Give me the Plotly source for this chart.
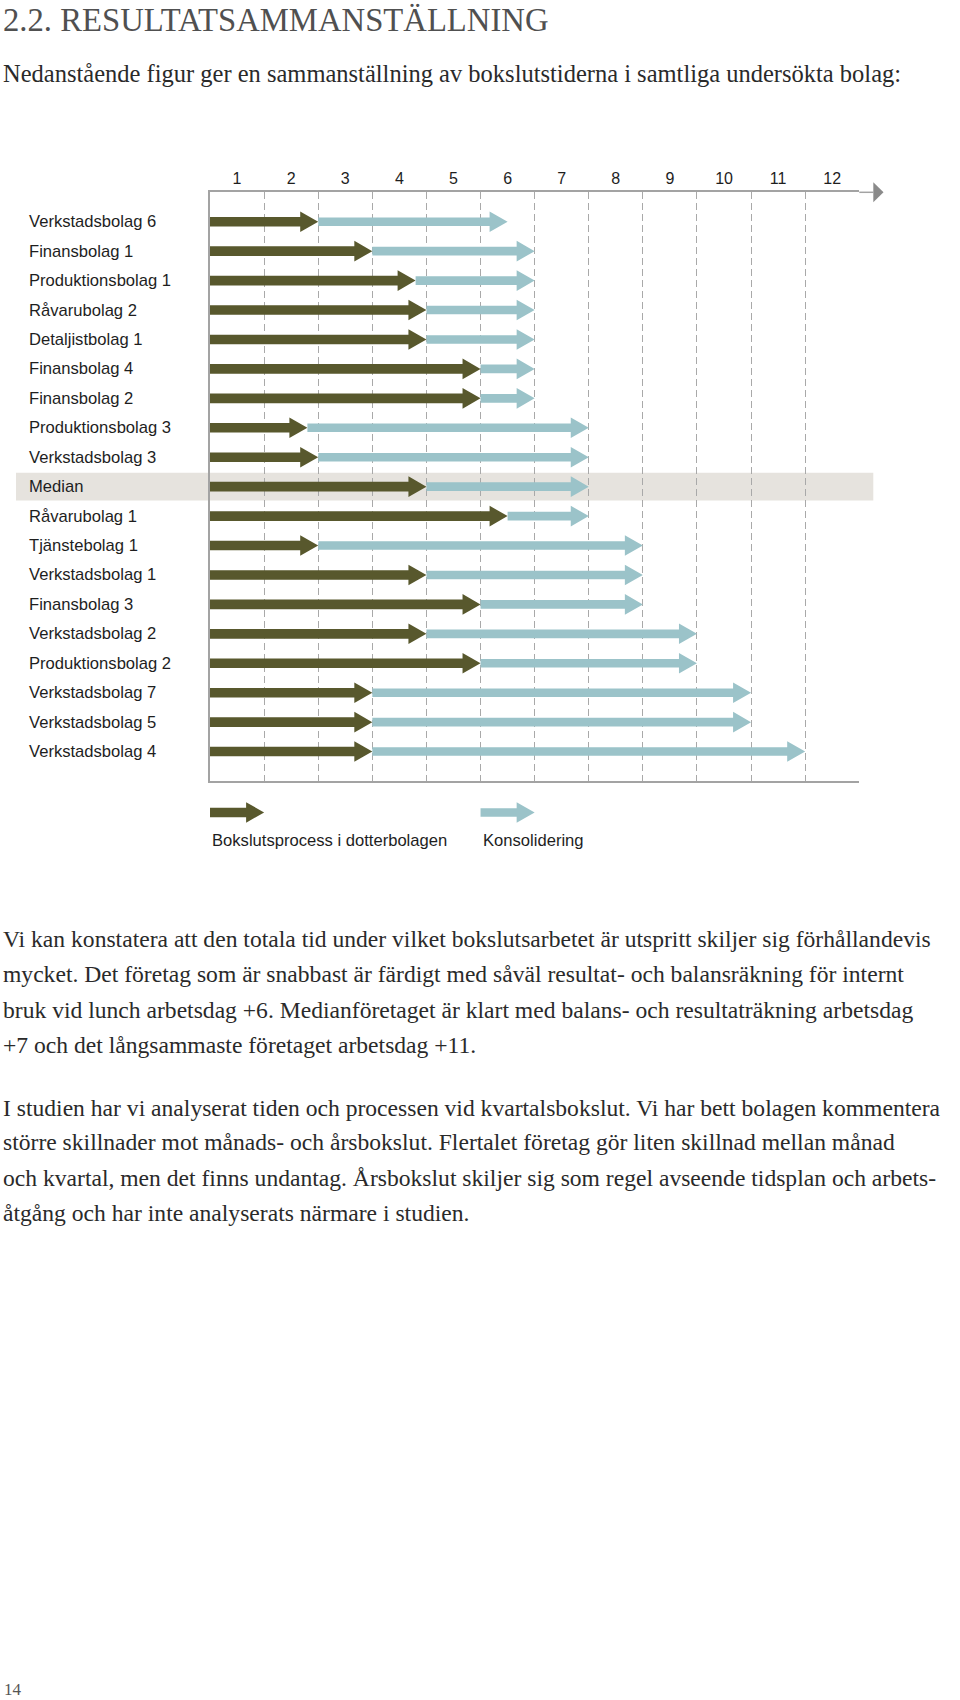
import plotly.graph_objects as go

# ---------------- data ----------------
companies = ["Verkstadsbolag 6", "Finansbolag 1", "Produktionsbolag 1", "Råvarubolag 2",
             "Detaljistbolag 1", "Finansbolag 4", "Finansbolag 2", "Produktionsbolag 3",
             "Verkstadsbolag 3", "Median", "Råvarubolag 1", "Tjänstebolag 1",
             "Verkstadsbolag 1", "Finansbolag 3", "Verkstadsbolag 2", "Produktionsbolag 2",
             "Verkstadsbolag 7", "Verkstadsbolag 5", "Verkstadsbolag 4"]
subsidiary_end = [2, 3, 3.8, 4, 4, 5, 5, 1.8, 2, 4, 5.5, 2, 4, 5, 4, 5, 3, 3, 3]
consolidation_end = [5.5, 6, 6, 6, 6, 6, 6, 7, 7, 7, 7, 8, 8, 8, 9, 9, 10, 10, 11]
day_labels = ["1", "2", "3", "4", "5", "6", "7", "8", "9", "10", "11", "12"]
legend_names = ["Bokslutsprocess i dotterbolagen", "Konsolidering"]
highlight = "Median"

title = "2.2. RESULTATSAMMANSTÄLLNING"
subtitle = "Nedanstående figur ger en sammanställning av bokslutstiderna i samtliga undersökta bolag:"
paragraph1 = [
    "Vi kan konstatera att den totala tid under vilket bokslutsarbetet är utspritt skiljer sig förhållandevis",
    "mycket. Det företag som är snabbast är färdigt med såväl resultat- och balansräkning för internt",
    "bruk vid lunch arbetsdag +6. Medianföretaget är klart med balans- och resultaträkning arbetsdag",
    "+7 och det långsammaste företaget arbetsdag +11.",
]
paragraph2 = [
    "I studien har vi analyserat tiden och processen vid kvartalsbokslut. Vi har bett bolagen kommentera",
    "större skillnader mot månads- och årsbokslut. Flertalet företag gör liten skillnad mellan månad",
    "och kvartal, men det finns undantag. Årsbokslut skiljer sig som regel avseende tidsplan och arbets-",
    "åtgång och har inte analyserats närmare i studien.",
]
page_number = "14"

# ---------------- style ----------------
W, H = 960, 1700
DARK = "#58582d"
LIGHT = "#9bc3c9"
BAND = "#e6e3de"
GRID = "#a9a9a9"
FRAME = "#a3a3a3"
SANS = "Liberation Sans, Arial, sans-serif"
SERIF = "Liberation Serif, Times New Roman, serif"

PLOT_L, PLOT_R = 210, 859.3      # px
PLOT_T, PLOT_B = 192.3, 781      # px
N_DAYS = 12
n = len(companies)
Y_MIN, Y_MAX = -1, n             # row range (reversed)
px_per_x = (PLOT_R - PLOT_L) / N_DAYS
px_per_row = (PLOT_B - PLOT_T) / (Y_MAX - Y_MIN)

HEAD_LEN = 18 / px_per_x
HEAD_HALF = 10.3 / px_per_row
SHAFT_DARK = 4.8 / px_per_row
SHAFT_LIGHT = 4.3 / px_per_row


def px_y(p):
    return 1 - p / H


def arrow_path(x0, x1, yc, half_shaft, half_head, head_len):
    xh = x1 - head_len
    pts = [(x0, yc - half_shaft), (xh, yc - half_shaft), (xh, yc - half_head), (x1, yc),
           (xh, yc + half_head), (xh, yc + half_shaft), (x0, yc + half_shaft)]
    return "M " + " L ".join(f"{a:.4f},{b:.4f}" for a, b in pts) + " Z"


shapes = []
annotations = []

# highlight band for the median row
mi = companies.index(highlight)
shapes.append(dict(type="rect", xref="paper", yref="y", x0=16 / W, x1=873.3 / W,
                   y0=mi - 0.47, y1=mi + 0.47, fillcolor=BAND, line_width=0, layer="below"))

# arrows
for i, (name, s_end, c_end) in enumerate(zip(companies, subsidiary_end, consolidation_end)):
    shapes.append(dict(type="path", xref="x", yref="y",
                       path=arrow_path(0, s_end, i, SHAFT_DARK, HEAD_HALF, HEAD_LEN),
                       fillcolor=DARK, line_width=0))
    shapes.append(dict(type="path", xref="x", yref="y",
                       path=arrow_path(s_end, c_end, i, SHAFT_LIGHT, HEAD_HALF, HEAD_LEN),
                       fillcolor=LIGHT, line_width=0))
    annotations.append(dict(text=name, xref="paper", yref="y", x=26.5 / W, y=i,
                            xanchor="left", yanchor="middle", showarrow=False,
                            font=dict(family=SANS, size=16.6, color="#1e1e1e")))

# axis extension with arrow head (top)
ext_end = (873.3 - PLOT_L) / (PLOT_R - PLOT_L)
tip = (883.5 - PLOT_L) / (PLOT_R - PLOT_L)
half_tri = 10 / (PLOT_B - PLOT_T)
shapes.append(dict(type="line", xref="x domain", yref="y domain", x0=1, x1=ext_end, y0=1, y1=1,
                   line=dict(color=FRAME, width=1.5)))
shapes.append(dict(type="path", xref="x domain", yref="y domain",
                   path=f"M {ext_end},{1 - half_tri} L {tip},1 L {ext_end},{1 + half_tri} Z",
                   fillcolor="#8a8a8a", line_width=0))

# legend
leg_y = 812.5
leg_half_shaft_d = 4.8 / H
leg_half_shaft_l = 4.3 / H
leg_half_head = 10.3 / H
for j, (lname, col, hs, x0) in enumerate(zip(legend_names, [DARK, LIGHT],
                                             [leg_half_shaft_d, leg_half_shaft_l], [0, 5])):
    shapes.append(dict(type="path", xref="x", yref="paper",
                       path=arrow_path(x0, x0 + 1, px_y(leg_y), hs, leg_half_head, HEAD_LEN),
                       fillcolor=col, line_width=0))
    annotations.append(dict(text=lname, xref="x", yref="paper", x=x0, y=px_y(840),
                            xanchor="left", yanchor="middle", showarrow=False,
                            font=dict(family=SANS, size=16.6, color="#1e1e1e")))

# page texts
annotations.append(dict(text=title, xref="paper", yref="paper", x=1 / W, y=px_y(20),
                        xanchor="left", yanchor="middle", showarrow=False,
                        font=dict(family=SERIF, size=32.7, color="#505050")))
annotations.append(dict(text=subtitle, xref="paper", yref="paper", x=1 / W, y=px_y(73),
                        xanchor="left", yanchor="middle", showarrow=False,
                        font=dict(family=SERIF, size=24.5, color="#2a2a2a")))
p1_y = [939, 974, 1010, 1045]
p2_y = [1107.5, 1142, 1178, 1213]
for line, yy in zip(paragraph1 + paragraph2, p1_y + p2_y):
    annotations.append(dict(text=line, xref="paper", yref="paper", x=1 / W, y=px_y(yy),
                            xanchor="left", yanchor="middle", showarrow=False,
                            font=dict(family=SERIF, size=23.6, color="#2a2a2a")))
annotations.append(dict(text=page_number, xref="paper", yref="paper", x=2 / W, y=px_y(1689),
                        xanchor="left", yanchor="middle", showarrow=False,
                        font=dict(family=SERIF, size=17, color="#555555")))

fig = go.Figure()
# invisible trace to set up the axes
fig.add_trace(go.Scatter(x=[0, N_DAYS], y=[0, n - 1], mode="markers",
                         marker=dict(opacity=0), hoverinfo="skip", showlegend=False))

fig.update_layout(
    width=W, height=H,
    margin=dict(l=0, r=0, t=0, b=0),
    paper_bgcolor="white", plot_bgcolor="white",
    showlegend=False,
    shapes=shapes, annotations=annotations,
    xaxis=dict(domain=[PLOT_L / W, PLOT_R / W], range=[0, N_DAYS], side="top",
               tickmode="array", tickvals=[k + 0.5 for k in range(N_DAYS)], ticktext=day_labels,
               ticks="", showgrid=False, zeroline=False,
               showline=True, mirror=True, linecolor=FRAME, linewidth=1.5,
               tickfont=dict(family=SANS, size=16, color="#1e1e1e"),
               minor=dict(tickmode="linear", tick0=0, dtick=1, showgrid=True,
                          gridcolor=GRID, griddash="7px,4px", gridwidth=1.2, ticks=""),
               fixedrange=True),
    yaxis=dict(domain=[px_y(PLOT_B), px_y(PLOT_T)], range=[Y_MAX, Y_MIN],
               showticklabels=False, showgrid=False, zeroline=False, ticks="",
               showline=True, linecolor=FRAME, linewidth=1.5, fixedrange=True),
)

fig.write_html("out.html", config={"displayModeBar": False},
               post_script="document.body.style.margin='0px';document.body.style.padding='0px';")
